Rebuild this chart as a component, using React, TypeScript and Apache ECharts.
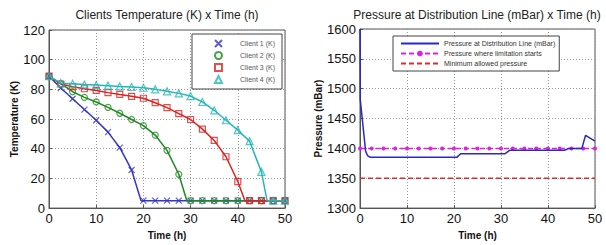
import React, { useEffect, useRef } from "react";
import * as echarts from "echarts";

const times = [0, 2.5, 5, 7.5, 10, 12.5, 15, 17.5, 20, 22.5, 25, 27.5, 30, 32.5, 35, 37.5, 40, 42.5, 45, 47.5, 50];
const client1 = [88.9, 80.9, 73.7, 66.4, 59.2, 51.2, 40.7, 25.7, 5, 5, 5, 5, 5, 5, 5, 5, 5, 5, 5, 5, 5];
const client2 = [88.9, 83.8, 78.4, 74.6, 71.5, 67.9, 63.9, 59.7, 55.6, 49.2, 38.9, 22.8, 5, 5, 5, 5, 5, 5, 5, 5, 5];
const client3 = [88.9, 83.6, 81.8, 80.4, 79.3, 77.8, 76.6, 75.3, 74.0, 71.0, 67.7, 63.7, 59.7, 53.2, 45.6, 34.6, 17.9, 5, 5, 5, 5];
const client4 = [88.9, 84.2, 83.8, 83.3, 82.9, 82.5, 82.0, 81.6, 81.1, 80.0, 78.7, 77.3, 75.5, 71.5, 65.9, 59.2, 52.5, 45.1, 24.4, 5, 5];
const dropTimes = [19.5, 29.2, 41.5, 46.2];
const floorTemp = 5;
const clientNames = ["Client 1 (K)", "Client 2 (K)", "Client 3 (K)", "Client 4 (K)"];

const pressureTimes = [0, 0.05, 1.2, 1.6, 2.2, 20.6, 21.4, 30.8, 31.9, 43.5, 44.5, 47.2, 48, 50];
const pressureValues = [1600, 1482, 1395, 1388, 1385, 1385, 1391, 1391, 1397, 1397, 1400, 1400, 1422, 1412];
const limitPressure = 1400;
const minPressure = 1350;
const pressureNames = ["Pressure at Distribution Line (mBar)", "Pressure where limitation starts", "Minimum allowed pressure"];

const FONT = "'Liberation Sans', Arial, sans-serif";

function buildLine(vals: number[], drop: number): [number, number][] {
  const out: [number, number][] = [];
  let added = false;
  times.forEach((t, i) => {
    if (!added && t >= drop) {
      out.push([drop, floorTemp]);
      added = true;
    }
    out.push([t, vals[i]]);
  });
  return out;
}

export default function App() {
  const ref = useRef<HTMLDivElement>(null);
  useEffect(() => {
    document.body.style.margin = "0";
    if (!ref.current) return;
    const chart = echarts.init(ref.current, null, { renderer: "svg" });
    const clientData = [client1, client2, client3, client4];
    const clientColors = ["#3535c8", "#1e8a1e", "#e02020", "#20b8b8"];
    const symbols = [
      "path://M0,0 L10,10 M10,0 L0,10",
      "circle",
      "rect",
      "triangle",
    ];
    const markerSizes = [6, 6, 6, 7];

    const axisCommon = {
      axisLine: { show: true, lineStyle: { color: "#555" } },
      axisTick: { show: true, inside: true, length: 3, lineStyle: { color: "#555" } },
      axisLabel: { color: "#111", fontSize: 13, fontFamily: FONT, margin: 4, formatter: (v: number) => String(v) },
      splitLine: { show: true, lineStyle: { color: "#999", type: [1, 2], width: 1 } },
      nameLocation: "middle" as const,
      nameTextStyle: { fontSize: 10, fontWeight: "bold" as const, fontFamily: FONT, color: "#111" },
    };

    const series: any[] = [];
    clientData.forEach((vals, k) => {
      series.push({
        type: "line",
        name: "line" + k,
        xAxisIndex: 0,
        yAxisIndex: 0,
        data: buildLine(vals, dropTimes[k]),
        showSymbol: false,
        symbol: "none",
        lineStyle: { color: clientColors[k], width: 1.5 },
        itemStyle: { color: clientColors[k] },
        z: 2 + k * 2,
      });
      series.push({
        type: "scatter",
        name: clientNames[k],
        xAxisIndex: 0,
        yAxisIndex: 0,
        data: times.map((t, i) => [t, vals[i]]),
        symbol: symbols[k],
        symbolSize: markerSizes[k],
        itemStyle: { color: "rgba(255,255,255,0)", borderColor: clientColors[k], borderWidth: 1.2 },
        z: 3 + k * 2,
      });
    });

    series.push({
      type: "line",
      name: pressureNames[0],
      xAxisIndex: 1,
      yAxisIndex: 1,
      data: pressureTimes.map((t, i) => [t, pressureValues[i]]),
      symbol: "none",
      lineStyle: { color: "#2828c8", width: 1.5 },
      itemStyle: { color: "#2828c8" },
      z: 5,
    });
    series.push({
      type: "line",
      name: pressureNames[1],
      xAxisIndex: 1,
      yAxisIndex: 1,
      data: times.map((t) => [t, limitPressure]),
      symbol: "circle",
      symbolSize: 4,
      showSymbol: true,
      lineStyle: { color: "#e020e0", width: 1.5, type: [5, 3] },
      itemStyle: { color: "#e020e0" },
      z: 4,
    });
    series.push({
      type: "line",
      name: pressureNames[2],
      xAxisIndex: 1,
      yAxisIndex: 1,
      data: [[0, minPressure], [50, minPressure]],
      symbol: "none",
      lineStyle: { color: "#e02a2a", width: 1.5, type: [5, 3] },
      itemStyle: { color: "#e02a2a" },
      z: 4,
    });

    chart.setOption({
      animation: false,
      backgroundColor: "#fff",
      graphic: [
        {
          type: "text",
          x: 167,
          y: 15,
          style: { text: "Clients Temperature (K) x Time (h)", fontSize: 12, fontFamily: FONT, fill: "#222", align: "center", verticalAlign: "middle" },
        },
        {
          type: "text",
          x: 477,
          y: 15,
          style: { text: "Pressure at Distribution Line (mBar) x Time (h)", fontSize: 12, fontFamily: FONT, fill: "#222", align: "center", verticalAlign: "middle" },
        },
      ],
      grid: [
        { left: 49, top: 30, width: 236, height: 179, show: true, borderColor: "#555", borderWidth: 1, backgroundColor: "#fff" },
        { left: 360, top: 29, width: 235, height: 180, show: true, borderColor: "#555", borderWidth: 1, backgroundColor: "#fff" },
      ],
      xAxis: [
        { ...axisCommon, type: "value", gridIndex: 0, min: 0, max: 50, interval: 10, name: "Time (h)", nameGap: 20 },
        { ...axisCommon, type: "value", gridIndex: 1, min: 0, max: 50, interval: 10, name: "Time (h)", nameGap: 20 },
      ],
      yAxis: [
        { ...axisCommon, type: "value", gridIndex: 0, min: 0, max: 120, interval: 20, name: "Temperature (K)", nameGap: 30 },
        { ...axisCommon, type: "value", gridIndex: 1, min: 1300, max: 1600, interval: 50, name: "Pressure (mBar)", nameGap: 36 },
      ],
      legend: [
        {
          data: clientNames,
          orient: "vertical",
          left: 192,
          top: 34,
          padding: [5, 7, 5, 22],
          itemGap: 3,
          itemWidth: 7,
          itemHeight: 7,
          borderColor: "#444",
          borderWidth: 1,
          borderRadius: 0,
          backgroundColor: "#fff",
          textStyle: { fontSize: 7, fontFamily: FONT, color: "#555", padding: [0, 0, 0, 13] },
          selectedMode: false,
        },
        {
          data: [
            { name: pressureNames[0], itemStyle: { opacity: 0 } },
            { name: pressureNames[1] },
            { name: pressureNames[2], itemStyle: { opacity: 0 } },
          ],
          orient: "vertical",
          left: 393,
          top: 36,
          padding: [4, 4, 4, 7],
          itemGap: 3,
          itemWidth: 38,
          itemHeight: 7,
          borderColor: "#444",
          borderWidth: 1,
          borderRadius: 0,
          backgroundColor: "#fff",
          textStyle: { fontSize: 7, fontFamily: FONT, color: "#333" },
          selectedMode: false,
        },
      ],
      series,
    });
    return () => chart.dispose();
  }, []);
  return <div ref={ref} style={{ width: 606, height: 245 }} />;
}
